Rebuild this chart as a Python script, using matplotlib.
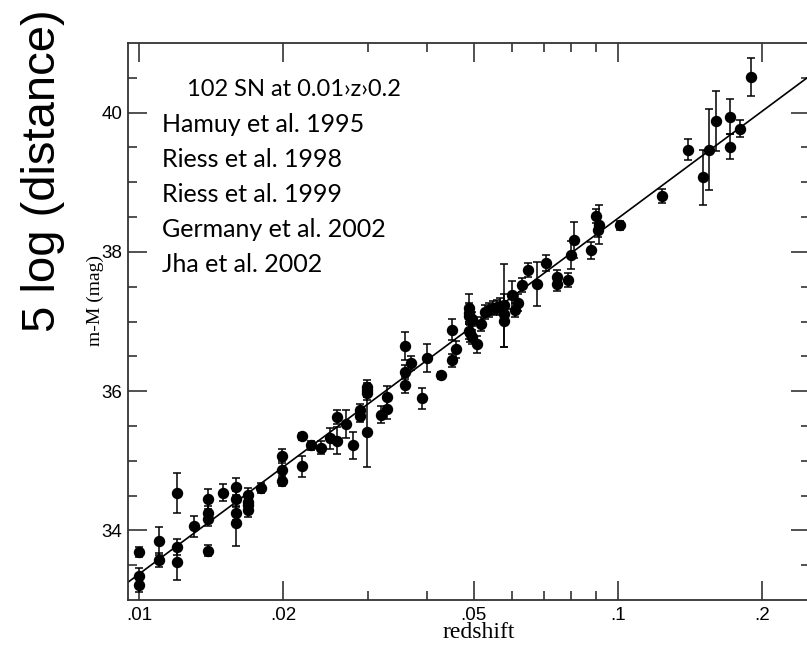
import matplotlib
matplotlib.use("Agg")
import matplotlib.pyplot as plt
from matplotlib.ticker import FixedLocator, FixedFormatter, NullFormatter

# supernova distance moduli
z = [0.0100, 0.0100, 0.0100, 0.0110, 0.0110, 0.0120, 0.0120, 0.0120, 0.0130,
     0.0139, 0.0139, 0.0139, 0.0139, 0.0150, 0.0159, 0.0159, 0.0159, 0.0159,
     0.0169, 0.0169, 0.0169, 0.0169, 0.0180, 0.0199, 0.0199, 0.0199, 0.0219,
     0.0219, 0.0229, 0.0240, 0.0250, 0.0259, 0.0259, 0.0270, 0.0280, 0.0289,
     0.0289, 0.0299, 0.0299, 0.0299, 0.0299, 0.0320, 0.0329, 0.0329, 0.0359,
     0.0359, 0.0359, 0.0370, 0.0390, 0.0399, 0.0428, 0.0450, 0.0450, 0.0459,
     0.0489, 0.0489, 0.0489, 0.0489, 0.0491, 0.0497, 0.0497, 0.0509, 0.0519,
     0.0528, 0.0539, 0.0549, 0.0558, 0.0567, 0.0579, 0.0579, 0.0579, 0.0600,
     0.0610, 0.0618, 0.0630, 0.0650, 0.0678, 0.0708, 0.0748, 0.0748, 0.0787,
     0.0798, 0.0809, 0.0878, 0.0900, 0.0914, 0.0910, 0.1010, 0.1239, 0.1402,
     0.1507, 0.1549, 0.1600, 0.1719, 0.1719, 0.1797, 0.1901]
mu = [33.69, 33.34, 33.21, 33.85, 33.58, 34.54, 33.76, 33.54, 34.06,
      34.45, 34.25, 34.17, 33.71, 34.54, 34.63, 34.45, 34.25, 34.10,
      34.51, 34.41, 34.36, 34.29, 34.61, 35.07, 34.87, 34.71, 35.35,
      34.92, 35.22, 35.19, 35.32, 35.63, 35.29, 35.53, 35.22, 35.73,
      35.64, 36.06, 36.01, 35.97, 35.41, 35.66, 35.92, 35.75, 36.65,
      36.28, 36.09, 36.41, 35.90, 36.48, 36.23, 36.88, 36.44, 36.60,
      37.20, 37.12, 37.08, 36.87, 36.83, 37.03, 36.78, 36.67, 36.97,
      37.14, 37.17, 37.20, 37.21, 37.22, 37.23, 37.11, 37.01, 37.38,
      37.16, 37.27, 37.52, 37.74, 37.54, 37.84, 37.64, 37.54, 37.59,
      37.95, 38.17, 38.02, 38.51, 38.39, 38.31, 38.38, 38.80, 39.47,
      39.07, 39.47, 39.88, 39.94, 39.51, 39.77, 40.51]
err = [0.07, 0.12, 0.10, 0.20, 0.10, 0.29, 0.12, 0.25, 0.15,
       0.15, 0.10, 0.10, 0.08, 0.12, 0.12, 0.12, 0.10, 0.33,
       0.10, 0.10, 0.10, 0.10, 0.07, 0.10, 0.12, 0.07, 0.05,
       0.15, 0.07, 0.10, 0.15, 0.10, 0.20, 0.20, 0.20, 0.08,
       0.08, 0.10, 0.10, 0.10, 0.50, 0.12, 0.15, 0.15, 0.20,
       0.10, 0.12, 0.10, 0.15, 0.20, 0.05, 0.15, 0.10, 0.12,
       0.20, 0.15, 0.12, 0.12, 0.12, 0.10, 0.10, 0.12, 0.10,
       0.10, 0.10, 0.10, 0.10, 0.12, 0.60, 0.10, 0.38, 0.20,
       0.10, 0.12, 0.10, 0.10, 0.32, 0.12, 0.10, 0.10, 0.10,
       0.20, 0.26, 0.12, 0.10, 0.28, 0.10, 0.07, 0.10, 0.15,
       0.40, 0.58, 0.43, 0.25, 0.18, 0.12, 0.27]

# fitted Hubble line
line_z = [0.0095, 0.26]
line_mu = [33.26, 40.60]

xticks = [0.01, 0.02, 0.05, 0.1, 0.2]
xticklabels = ['.01', '.02', '.05', '.1', '.2']
xminor = [0.03, 0.04, 0.06, 0.07, 0.08, 0.09]
yticks = [34, 36, 38, 40]

notes = ['Hamuy et al. 1995', 'Riess et al. 1998', 'Riess et al. 1999',
         'Germany et al. 2002', 'Jha et al. 2002']

W, H = 807, 649
fig = plt.figure(figsize=(W / 100, H / 100), dpi=100)
ax = fig.add_axes([128 / W, 1 - 600 / H, 682 / W, 557 / H])

ax.plot(line_z, line_mu, color='black', lw=1.2, zorder=2)
ax.errorbar(z, mu, yerr=err, fmt='o', color='black', ms=7.2,
            elinewidth=1.1, capsize=3, capthick=1.1, zorder=3)

ax.set_xscale('log')
ax.set_xlim(0.00948, 0.252)
ax.set_ylim(33, 41)

ax.xaxis.set_major_locator(FixedLocator(xticks))
ax.xaxis.set_major_formatter(FixedFormatter(xticklabels))
ax.xaxis.set_minor_locator(FixedLocator(xminor))
ax.xaxis.set_minor_formatter(NullFormatter())
ax.set_yticks(yticks)
ax.yaxis.set_minor_locator(FixedLocator([33.5 + 0.5 * i for i in range(15)]))

for s in ax.spines.values():
    s.set_linewidth(1.3)
    s.set_color('#333333')
ax.tick_params(which='both', direction='in', top=True, right=True,
               color='#333333', width=1.2)
ax.tick_params(which='major', length=13.5)
ax.tick_params(which='minor', length=6.5)
ax.tick_params(axis='y', which='major', pad=4, labelsize=13.5)
ax.tick_params(axis='x', which='major', pad=5, labelsize=13.5)
for lab in ax.get_xticklabels() + ax.get_yticklabels():
    lab.set_family('Liberation Sans')

fig.text(479 / W, 1 - 633 / H, 'redshift', family='Liberation Serif',
         fontsize=17, ha='center', va='center')
fig.text(95 / W, 1 - 301 / H, 'm-M (mag)', family='Liberation Serif',
         fontsize=14, rotation=90, ha='center', va='center')
fig.text(43 / W, 1 - 171 / H, '5 log (distance)', family='Liberation Sans',
         fontsize=34, rotation=90, ha='center', va='center')

fig.text(187 / W, 1 - 96 / H, '102 SN at 0.01\u203az\u203a0.2',
         family='Lato', fontsize=17, va='baseline')
for i, t in enumerate(notes):
    fig.text(162 / W, 1 - (132 + 35 * i) / H, t, family='Lato',
             fontsize=18, va='baseline')

fig.savefig('out.png', dpi=100)
